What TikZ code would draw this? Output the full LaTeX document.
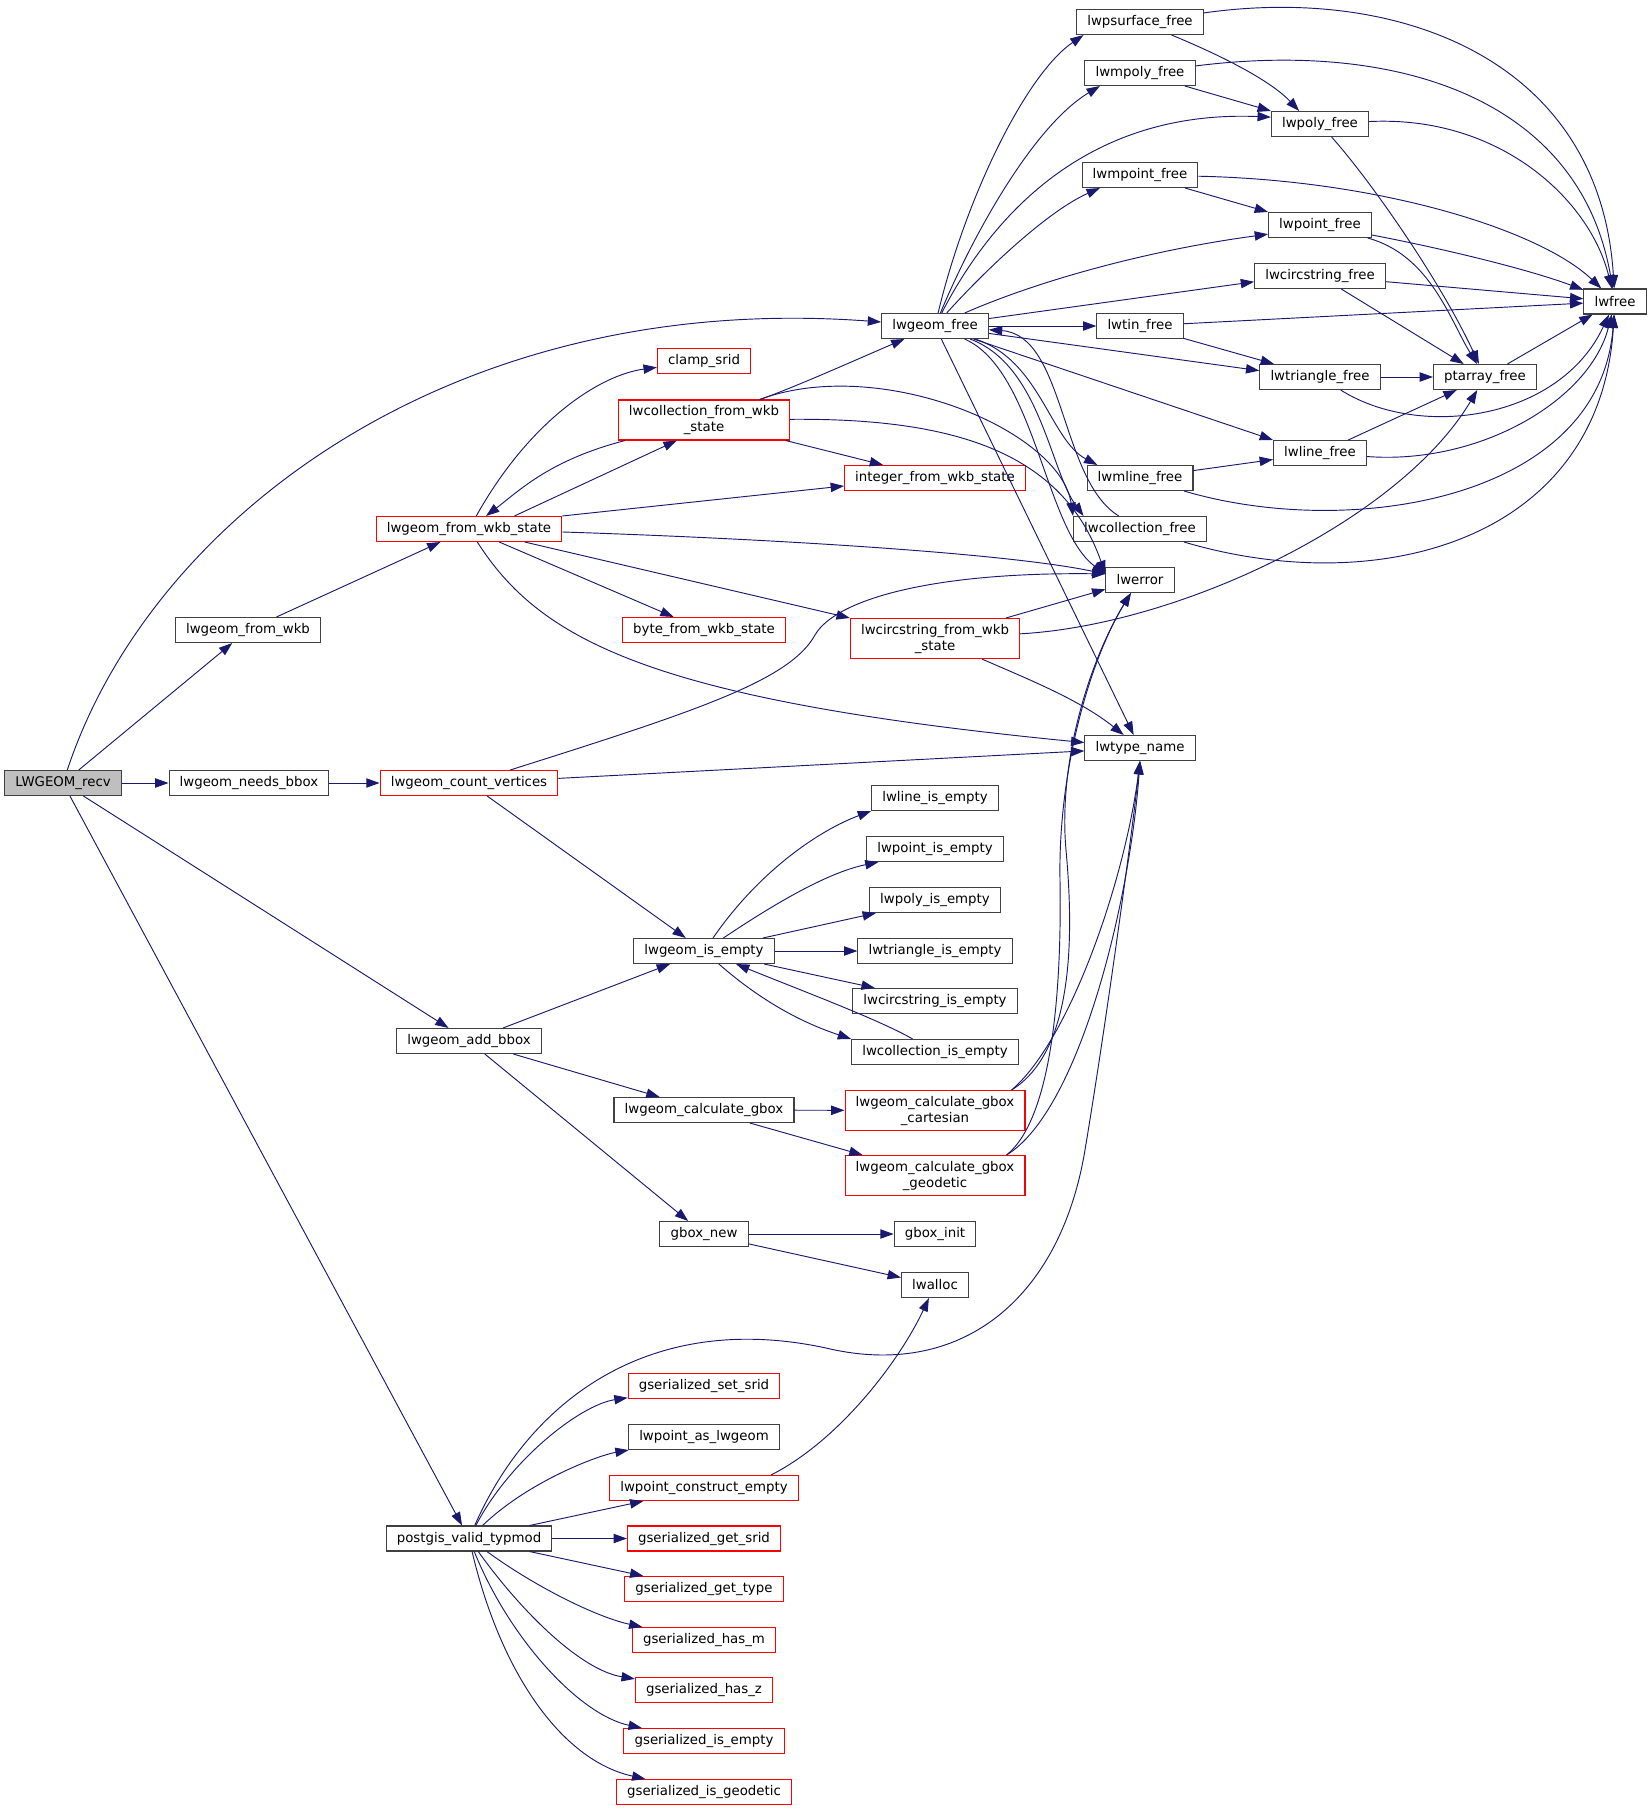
\documentclass[tikz,border=0pt]{standalone}
\usepackage{fontspec}
\setmainfont{DejaVu Sans}
\usepackage{xcolor}
\usepackage{tikz}
\usetikzlibrary{arrows.meta}

\definecolor{edgeblue}{HTML}{191970}
\definecolor{boxgrey}{HTML}{404040}
\definecolor{rootgrey}{HTML}{BFBFBF}

\tikzset{
    fn/.style={draw=boxgrey, line width=0.8pt, fill=white, font=\fontsize{10}{12}\selectfont,
        inner xsep=8pt, inner ysep=2pt, minimum height=18.75pt, align=center},
    fnred/.style={fn, draw=red},
    fnroot/.style={fn, fill=rootgrey},
    twoline/.style={minimum height=30pt},
    call/.style={draw=edgeblue, line width=0.7pt, -{Triangle[length=10pt,width=7pt]}},
}

\begin{document}
\begin{tikzpicture}[x=0.75pt, y=-0.75pt]
    \path[use as bounding box, fill=white] (0,0) rectangle (1652,1811);

    % Callers
    \node[fnroot] (recv) at (63,783) {LWGEOM\_recv};
    \node[fn] (fromwkb) at (248,630) {lwgeom\_from\_wkb};
    \node[fn] (needsbbox) at (249,783) {lwgeom\_needs\_bbox};
    \node[fnred] (wkbstate) at (469,529) {lwgeom\_from\_wkb\_state};
    \node[fnred] (countvert) at (469,783) {lwgeom\_count\_vertices};
    \node[fn] (addbbox) at (469,1041) {lwgeom\_add\_bbox};
    \node[fn] (typmod) at (469,1538.5) {postgis\_valid\_typmod};

    % Middle column
    \node[fnred] (clamp) at (704,361) {clamp\_srid};
    \node[fnred, twoline] (collwkb) at (704,420) {lwcollection\_from\_wkb\\\_state};
    \node[fnred] (bytewkb) at (704,630) {byte\_from\_wkb\_state};
    \node[fn] (isempty) at (704,951) {lwgeom\_is\_empty};
    \node[fn] (calcgbox) at (704,1110) {lwgeom\_calculate\_gbox};
    \node[fn] (gboxnew) at (704,1234) {gbox\_new};
    \node[fnred] (setsrid) at (704,1386) {gserialized\_set\_srid};
    \node[fn] (asgeom) at (704,1437) {lwpoint\_as\_lwgeom};
    \node[fnred] (ptempty) at (704,1488) {lwpoint\_construct\_empty};
    \node[fnred] (getsrid) at (704,1538.5) {gserialized\_get\_srid};
    \node[fnred] (gettype) at (704,1589) {gserialized\_get\_type};
    \node[fnred] (hasm) at (704,1640) {gserialized\_has\_m};
    \node[fnred] (hasz) at (704,1690) {gserialized\_has\_z};
    \node[fnred] (gsempty) at (704,1741) {gserialized\_is\_empty};
    \node[fnred] (gsgeod) at (704,1792) {gserialized\_is\_geodetic};

    \node[fn] (geomfree) at (935,326) {lwgeom\_free};
    \node[fnred] (intwkb) at (935,478) {integer\_from\_wkb\_state};
    \node[fnred, twoline] (circwkb) at (935,638.5) {lwcircstring\_from\_wkb\\\_state};
    \node[fn] (lineempty) at (935,798) {lwline\_is\_empty};
    \node[fn] (pointempty) at (935,849) {lwpoint\_is\_empty};
    \node[fn] (polyempty) at (935,900) {lwpoly\_is\_empty};
    \node[fn] (triempty) at (935,951) {lwtriangle\_is\_empty};
    \node[fn] (circempty) at (935,1001) {lwcircstring\_is\_empty};
    \node[fn] (collempty) at (935,1052) {lwcollection\_is\_empty};
    \node[fnred, twoline] (cart) at (935,1110.5) {lwgeom\_calculate\_gbox\\\_cartesian};
    \node[fnred, twoline] (geod) at (935,1175.5) {lwgeom\_calculate\_gbox\\\_geodetic};
    \node[fn] (gboxinit) at (935,1234) {gbox\_init};
    \node[fn] (alloc) at (935,1285) {lwalloc};

    % Free functions
    \node[fn] (psurf) at (1140,22) {lwpsurface\_free};
    \node[fn] (mpoly) at (1140,73) {lwmpoly\_free};
    \node[fn] (mpoint) at (1140,175) {lwmpoint\_free};
    \node[fn] (tin) at (1140,326) {lwtin\_free};
    \node[fn] (mline) at (1140,478) {lwmline\_free};
    \node[fn] (collfree) at (1140,529) {lwcollection\_free};
    \node[fn] (error) at (1140,580) {lwerror};
    \node[fn] (typename) at (1140,748) {lwtype\_name};
    \node[fn] (polyfree) at (1320,124) {lwpoly\_free};
    \node[fn] (pointfree) at (1320,225) {lwpoint\_free};
    \node[fn] (circfree) at (1320,276) {lwcircstring\_free};
    \node[fn] (trifree) at (1320,377) {lwtriangle\_free};
    \node[fn] (linefree) at (1320,453) {lwline\_free};
    \node[fn] (ptarray) at (1485,377) {ptarray\_free};
    \node[fn] (lwfree) at (1615,301.5) {lwfree};

    % LWGEOM_recv
    \draw[call] (recv) .. controls (150,520) and (450,290) .. (geomfree);
    \draw[call] (recv) -- (fromwkb);
    \draw[call] (recv) -- (needsbbox);
    \draw[call] (recv) -- (addbbox);
    \draw[call] (recv) -- (typmod);
    \draw[call] (fromwkb) -- (wkbstate);
    \draw[call] (needsbbox) -- (countvert);

    % lwgeom_from_wkb_state
    \draw[call] (wkbstate) .. controls (530,420) and (600,375) .. (clamp);
    \draw[call] (wkbstate.16) -- (collwkb.217);
    \draw[call] (collwkb) .. controls (550,460) and (520,490) .. (wkbstate);
    \draw[call] (wkbstate.north east) -- (intwkb.185);
    \draw[call] (wkbstate) .. controls (750,538) and (1000,552) .. (error.170);
    \draw[call] (wkbstate) -- (bytewkb);
    \draw[call] (wkbstate) -- (circwkb.north west);
    \draw[call] (wkbstate) .. controls (540,640) and (650,700) .. (typename);

    % lwcollection_from_wkb_state
    \draw[call] (collwkb) .. controls (800,385) and (860,358) .. (geomfree);
    \draw[call] (collwkb) .. controls (880,355) and (1060,430) .. (collfree.north west);
    \draw[call] (collwkb) .. controls (950,418) and (1062,450) .. (error.170);
    \draw[call] (collwkb) -- (intwkb);

    % lwgeom_count_vertices
    \draw[call] (countvert) .. controls (700,710) and (790,680) .. (815,635)
        .. controls (835,600) and (930,572) .. (error.170);
    \draw[call] (countvert) -- (typename);
    \draw[call] (countvert) -- (isempty);

    % lwgeom_free
    \draw[call] (geomfree) .. controls (965,200) and (1025,75) .. (psurf.193);
    \draw[call] (geomfree) .. controls (975,230) and (1035,125) .. (mpoly.198);
    \draw[call] (geomfree) .. controls (1000,200) and (1100,110) .. (polyfree.172);
    \draw[call] (geomfree) .. controls (990,265) and (1050,210) .. (mpoint.198);
    \draw[call] (geomfree) .. controls (1040,280) and (1150,250) .. (pointfree.190);
    \draw[call] (geomfree) -- (circfree.185);
    \draw[call] (geomfree) -- (tin);
    \draw[call] (geomfree) -- (trifree.174);
    \draw[call] (geomfree) -- (linefree.north west);
    \draw[call] (geomfree) .. controls (1040,360) and (1050,440) .. (mline.163);
    \draw[call] (geomfree) .. controls (1040,365) and (1050,470) .. (collfree.167);
    \draw[call] (geomfree) .. controls (1035,370) and (1045,530) .. (error.170);
    \draw[call] (geomfree) -- (typename);
    \draw[call] (collfree) .. controls (1060,480) and (1065,335) .. (geomfree);

    % Free functions down to lwfree
    \draw[call] (psurf) .. controls (1220,55) and (1270,80) .. (polyfree.148);
    \draw[call] (psurf) .. controls (1400,-15) and (1600,60) .. (lwfree);
    \draw[call] (mpoly) -- (polyfree.north west);
    \draw[call] (mpoly) .. controls (1400,40) and (1580,100) .. (lwfree);
    \draw[call] (polyfree) .. controls (1370,180) and (1440,280) .. (ptarray);
    \draw[call] (polyfree) .. controls (1500,115) and (1590,200) .. (lwfree);
    \draw[call] (mpoint) -- (pointfree.north west);
    \draw[call] (mpoint) .. controls (1380,180) and (1540,230) .. (lwfree);
    \draw[call] (pointfree) .. controls (1430,255) and (1450,320) .. (ptarray);
    \draw[call] (pointfree) .. controls (1450,250) and (1530,270) .. (lwfree);
    \draw[call] (circfree) -- (ptarray);
    \draw[call] (circfree) -- (lwfree);
    \draw[call] (tin) -- (lwfree);
    \draw[call] (tin) -- (trifree);
    \draw[call] (trifree) -- (ptarray);
    \draw[call] (trifree) .. controls (1420,440) and (1560,420) .. (lwfree);
    \draw[call] (ptarray) -- (lwfree);
    \draw[call] (linefree) -- (ptarray);
    \draw[call] (linefree) .. controls (1480,465) and (1590,400) .. (lwfree);
    \draw[call] (mline) -- (linefree);
    \draw[call] (mline) .. controls (1350,540) and (1600,500) .. (lwfree);
    \draw[call] (collfree) .. controls (1380,600) and (1600,540) .. (lwfree);

    % lwcircstring_from_wkb_state
    \draw[call] (circwkb) -- (error.195);
    \draw[call] (circwkb) .. controls (1180,625) and (1400,520) .. (ptarray);
    \draw[call] (circwkb) .. controls (1030,680) and (1080,700) .. (typename);

    % lwgeom_is_empty
    \draw[call] (isempty) .. controls (760,870) and (820,830) .. (lineempty.south west);
    \draw[call] (isempty) .. controls (780,900) and (830,872) .. (pointempty.193);
    \draw[call] (isempty) -- (polyempty);
    \draw[call] (isempty) -- (triempty);
    \draw[call] (isempty) -- (circempty);
    \draw[call] (isempty) .. controls (760,1000) and (800,1022) .. (collempty.north west);
    \draw[call] (collempty) .. controls (880,1020) and (800,990) .. (isempty);

    % lwgeom_add_bbox
    \draw[call] (addbbox) -- (isempty);
    \draw[call] (addbbox) -- (calcgbox);
    \draw[call] (addbbox) -- (gboxnew);
    \draw[call] (calcgbox) -- (cart);
    \draw[call] (calcgbox) -- (geod);
    \draw[call] (cart.15) .. controls (1060,1060) and (1078,980) .. (1066,850)
        .. controls (1058,760) and (1090,660) .. (error.235);
    \draw[call] (geod.16) .. controls (1050,1120) and (1062,1000) .. (1060,880)
        .. controls (1058,770) and (1090,660) .. (error.235);
    \draw[call] (cart.15) .. controls (1070,1040) and (1125,880) .. (typename.south);
    \draw[call] (geod.16) .. controls (1080,1110) and (1130,900) .. (typename.south);
    \draw[call] (gboxnew) -- (gboxinit);
    \draw[call] (gboxnew) -- (alloc);

    % postgis_valid_typmod
    \draw[call] (typmod) .. controls (530,1400) and (650,1310) .. (826,1348)
        .. controls (960,1380) and (1060,1300) .. (1085,1150)
        .. controls (1105,1030) and (1130,850) .. (typename.south);
    \draw[call] (typmod) .. controls (510,1460) and (580,1405) .. (setsrid);
    \draw[call] (typmod) .. controls (530,1480) and (600,1455) .. (asgeom);
    \draw[call] (typmod) -- (ptempty);
    \draw[call] (typmod) -- (getsrid);
    \draw[call] (typmod) -- (gettype);
    \draw[call] (typmod) .. controls (540,1590) and (600,1618) .. (hasm);
    \draw[call] (typmod) .. controls (520,1610) and (580,1670) .. (hasz);
    \draw[call] (typmod) .. controls (510,1640) and (580,1715) .. (gsempty);
    \draw[call] (typmod) .. controls (500,1670) and (560,1760) .. (gsgeod);
    \draw[call] (ptempty.11) .. controls (840,1440) and (900,1360) .. (alloc);
\end{tikzpicture}
\end{document}
